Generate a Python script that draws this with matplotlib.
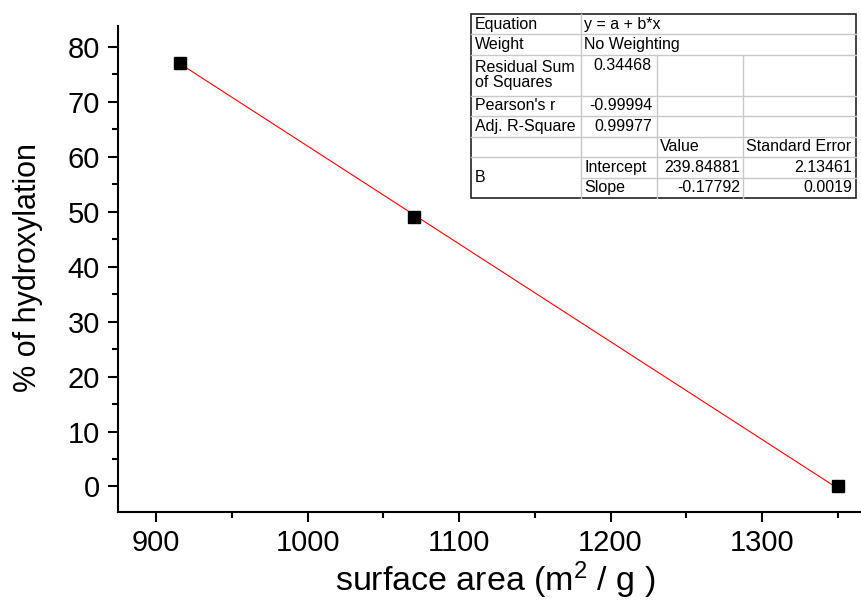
import numpy as np
import matplotlib.pyplot as plt
from matplotlib.ticker import MultipleLocator

plt.rcParams['font.family'] = ['Liberation Sans', 'DejaVu Sans']
plt.rcParams['mathtext.fontset'] = 'custom'
plt.rcParams['mathtext.rm'] = 'Liberation Sans'
plt.rcParams['mathtext.it'] = 'Liberation Sans'

# data
surface_area = [916, 1070, 1350]
hydroxylation = [77, 49, 0]
intercept = 239.84881
slope = -0.17792

# fit table (Origin style)
stat_names = ["Residual Sum\nof Squares", "Pearson's r", "Adj. R-Square"]
stat_values = ["0.34468", "-0.99994", "0.99977"]
param_names = ["Intercept", "Slope"]
param_values = ["239.84881", "-0.17792"]
param_errors = ["2.13461", "0.0019"]


def graph():
    fig = plt.figure(figsize=(8.61, 6.01), dpi=100)
    W, H = 861, 601
    ax = fig.add_axes([118 / W, 1 - 512 / H, 1 - 118 / W, (512 - 26) / H])

    ax.set_xlim(874.9, 1365.3)
    ax.set_ylim(-4.64, 83.77)

    x = np.array([surface_area[0], surface_area[-1]])
    ax.plot(x, intercept + slope * x, color='red', lw=0.8, zorder=2)
    ax.plot(surface_area, hydroxylation, 's', color='black', ms=8.5, zorder=3)

    for s in ['top', 'right']:
        ax.spines[s].set_visible(False)
    for s in ['left', 'bottom']:
        ax.spines[s].set_linewidth(1.5)

    ax.xaxis.set_major_locator(MultipleLocator(100))
    ax.xaxis.set_minor_locator(MultipleLocator(50))
    ax.yaxis.set_major_locator(MultipleLocator(10))
    ax.yaxis.set_minor_locator(MultipleLocator(5))
    ax.tick_params(which='major', direction='out', length=7, width=1.5, labelsize=21)
    ax.tick_params(axis='x', which='major', pad=5)
    ax.tick_params(axis='y', which='major', pad=6)
    ax.tick_params(which='minor', direction='out', length=4, width=1.5)

    ax.set_xlabel("surface area (m$^{\\mathrm{2}}$ / g )", fontsize=24.5)
    ax.xaxis.label.set_va('baseline')
    ax.xaxis.set_label_coords((495 - 118) / 743, -(591 - 512) / 486)
    ax.set_ylabel("% of hydroxylation", fontsize=22)
    ax.yaxis.label.set_va('center')
    ax.yaxis.set_label_coords((28 - 118) / 743, (512 - 268) / 486)

    # the table, drawn in pixel coordinates
    t = fig.add_axes([0, 0, 1, 1], zorder=5)
    t.set_xlim(0, W)
    t.set_ylim(H, 0)
    t.axis('off')

    cols = [471, 581, 657, 743, 856]
    top = 14
    u = 184 / 9
    rows = [top + u * k for k in [0, 1, 2, 4, 5, 6, 7, 8, 9]]
    bottom = rows[-1]
    g = '#c8c8c8'
    fs = 11.5

    t.add_patch(plt.Rectangle((cols[0], top), cols[-1] - cols[0], bottom - top,
                              facecolor='white', edgecolor='none'))
    for i, y in enumerate(rows[1:-1], start=1):
        x0 = cols[1] if i == 7 else cols[0]
        t.plot([x0, cols[-1]], [y, y], color=g, lw=1)
    t.plot([cols[1], cols[1]], [top, bottom], color=g, lw=1)
    for c in cols[2:4]:
        t.plot([c, c], [rows[2], bottom], color=g, lw=1)
    t.add_patch(plt.Rectangle((cols[0], top), cols[-1] - cols[0], bottom - top,
                              facecolor='none', edgecolor='#222222', lw=1.2))

    def txt(x, y, s, ha='left', va='center'):
        t.text(x, y, s, ha=ha, va=va, fontsize=fs, color='black', linespacing=1.0)

    mid = lambda a, b: (rows[a] + rows[b]) / 2
    txt(cols[0] + 4, mid(0, 1), "Equation")
    txt(cols[1] + 3, mid(0, 1), "y = a + b*x")
    txt(cols[0] + 4, mid(1, 2), "Weight")
    txt(cols[1] + 3, mid(1, 2), "No Weighting")
    for i, (n, v) in enumerate(zip(stat_names, stat_values)):
        txt(cols[0] + 4, mid(2 + i, 3 + i), n)
        if i == 0:
            txt(cols[2] - 5, rows[2] + u / 2, v, ha='right')
        else:
            txt(cols[2] - 5, mid(2 + i, 3 + i), v, ha='right')
    txt(cols[2] + 3, mid(5, 6), "Value")
    txt(cols[3] + 3, mid(5, 6), "Standard Error")
    txt(cols[0] + 4, mid(6, 8), "B")
    for i in range(2):
        txt(cols[1] + 3, mid(6 + i, 7 + i), param_names[i])
        txt(cols[3] - 3, mid(6 + i, 7 + i), param_values[i], ha='right')
        txt(cols[4] - 4, mid(6 + i, 7 + i), param_errors[i], ha='right')

    fig.savefig('out.png', dpi=100)


graph()
